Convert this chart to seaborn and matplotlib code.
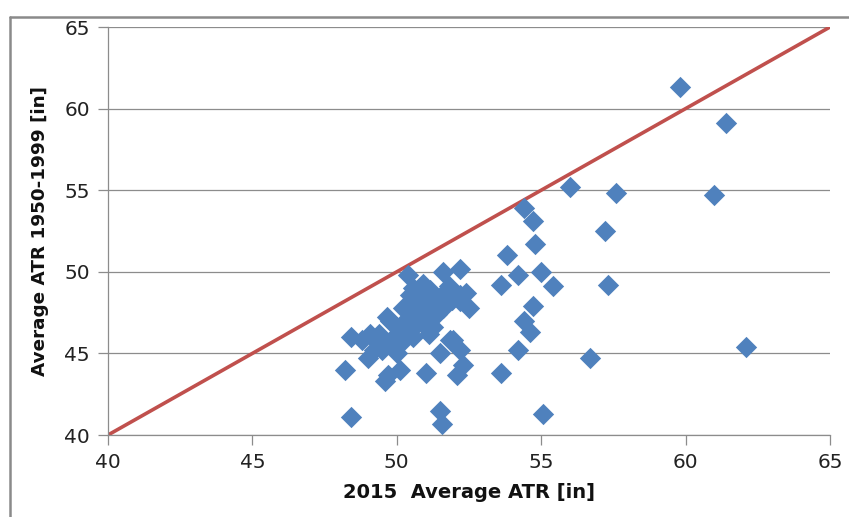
import matplotlib
matplotlib.use("Agg")
import matplotlib.pyplot as plt
import seaborn as sns
import pandas as pd
from matplotlib.lines import Line2D

# 2015 average ATR (x) vs average ATR 1950-1999 (y)
atr_2015 = [
    59.8, 61.4, 61.0, 56.0, 57.6, 54.4, 54.7, 57.2, 54.8, 53.8, 54.2, 55.0,
    53.6, 55.4, 57.3, 54.7, 54.4, 54.6, 54.2, 56.7, 62.1, 53.6, 55.05,
    50.4, 51.6, 52.2, 52.4, 52.5, 51.8, 51.9, 51.15, 50.8, 50.46, 51.4,
    51.6, 52.2, 50.8, 50.2, 50.9, 49.65, 51.26, 50.6, 50.0, 49.4, 49.07,
    48.4, 48.8, 50.1, 49.2, 49.0, 48.2, 48.4, 49.6, 49.7, 50.1, 51.0,
    52.1, 52.3, 51.5, 51.95, 52.2, 51.5, 51.55,
    50.57, 50.9, 51.7, 52.2, 49.76, 49.4, 50.0, 50.0, 49.5, 50.9, 51.4,
    50.8, 51.4, 50.57, 51.84,
    50.3, 50.5, 49.9, 50.3, 51.0, 51.2, 49.8, 49.3, 50.7, 51.1,
]
atr_1950_1999 = [
    61.3, 59.1, 54.7, 55.2, 54.8, 53.9, 53.1, 52.5, 51.7, 51.0, 49.8, 50.0,
    49.2, 49.1, 49.2, 47.9, 47.0, 46.3, 45.2, 44.7, 45.4, 43.8, 41.3,
    49.8, 50.0, 50.2, 48.7, 47.8, 49.1, 48.3, 48.9, 49.0, 48.6, 48.3,
    47.8, 48.2, 47.8, 47.8, 47.2, 47.2, 46.6, 46.6, 46.6, 46.2, 46.2,
    46.0, 45.8, 45.6, 45.2, 44.7, 44.0, 41.1, 43.3, 43.7, 44.0, 43.8,
    43.7, 44.3, 45.0, 45.8, 45.2, 41.5, 40.7,
    49.0, 49.25, 48.8, 48.6, 47.0, 46.0, 45.8, 45.0, 45.2, 46.8, 47.4,
    48.0, 48.2, 46.0, 45.8,
    47.0, 47.4, 46.0, 46.3, 48.3, 47.8, 45.5, 45.7, 47.6, 46.2,
]
line_x = [40, 65]
line_y = [40, 65]
x_ticks = [40, 45, 50, 55, 60, 65]
y_ticks = [40, 45, 50, 55, 60, 65]

df = pd.DataFrame({"x": atr_2015, "y": atr_1950_1999})
df_line = pd.DataFrame({"x": line_x, "y": line_y})

sns.set_theme(style="white")
plt.rcParams["font.family"] = ["DejaVu Sans"]

fig = plt.figure(figsize=(8.49, 5.17), dpi=100)
ax = fig.add_axes([108 / 849, 1 - 435 / 517, (830 - 108) / 849, (435 - 27) / 517])

grid_c = "#8c8c8c"
ax.set_axisbelow(True)
for yv in y_ticks:
    ax.axhline(yv, color=grid_c, lw=0.9, zorder=0)

sns.scatterplot(data=df, x="x", y="y", marker="D", s=118, color="#4F81BD",
                linewidth=0, ax=ax, zorder=3)
sns.lineplot(data=df_line, x="x", y="y", color="#C0504D", lw=2.6, ax=ax,
             zorder=2)

ax.set_xlim(40, 65)
ax.set_ylim(40, 65)
ax.set_xticks(x_ticks)
ax.set_yticks(y_ticks)
ax.set_xticklabels([str(v) for v in x_ticks], fontsize=14.5, color="#222222")
ax.set_yticklabels([str(v) for v in y_ticks], fontsize=14.5, color="#222222")
ax.tick_params(axis="both", which="both", direction="out", length=7,
               width=0.9, color=grid_c, pad=6, bottom=True, left=True)
for s in ["top", "right"]:
    ax.spines[s].set_visible(False)
for s in ["left", "bottom"]:
    ax.spines[s].set_color(grid_c)
    ax.spines[s].set_linewidth(0.9)

ax.set_xlabel("2015  Average ATR [in]", fontsize=14, fontweight="bold",
              color="#111111", labelpad=8)
ax.set_ylabel("Average ATR 1950-1999 [in]", fontsize=13.2, fontweight="bold",
              color="#111111", labelpad=11)

# outer chart frame (left and top edges visible)
fx0, fy1 = 10 / 849, 1 - 17 / 517
fig.add_artist(Line2D([fx0, fx0], [0, fy1], transform=fig.transFigure,
                      color="#8a8a8a", lw=1.8))
fig.add_artist(Line2D([fx0, 1], [fy1, fy1], transform=fig.transFigure,
                      color="#8a8a8a", lw=1.8))

fig.savefig("out.png", dpi=100)
